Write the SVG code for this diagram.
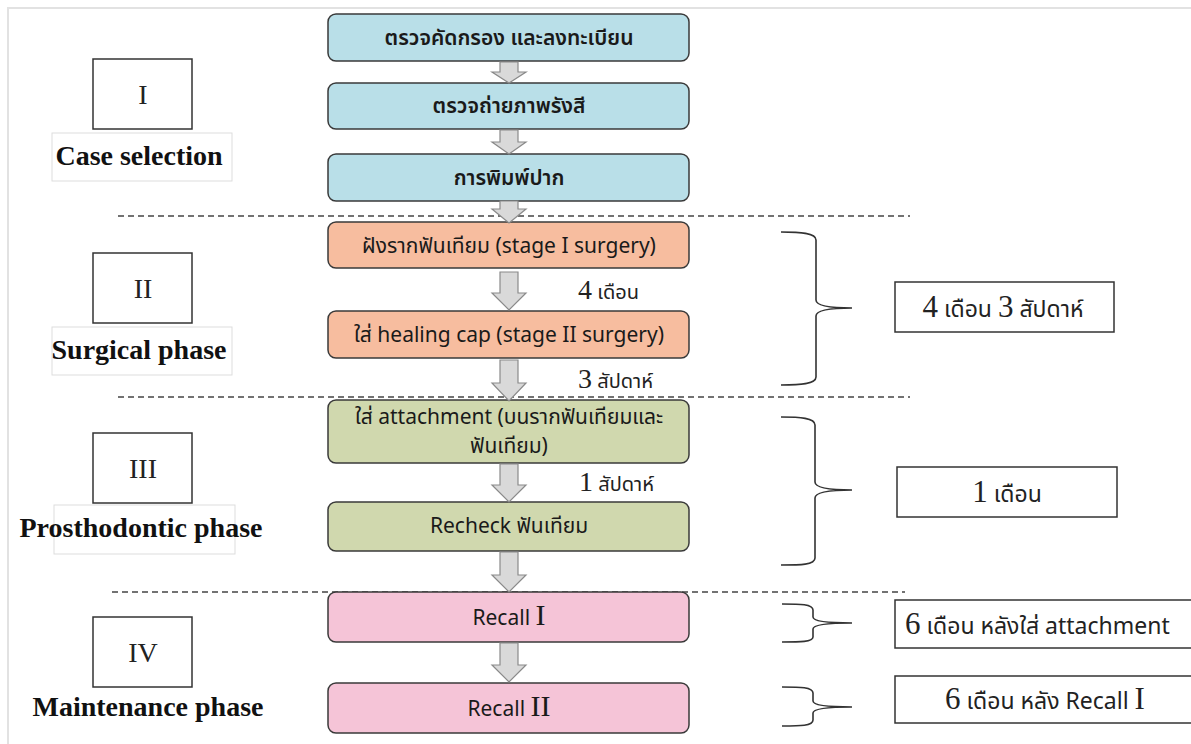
<svg xmlns="http://www.w3.org/2000/svg" width="1191" height="744" viewBox="0 0 1191 744">
<style>
.node{stroke:#3a3a3a;stroke-width:1.5}
.blue{fill:#b9dfe8}
.orange{fill:#f7bd9f}
.green{fill:#d0d8ae}
.pink{fill:#f5c4d7}
.nt{font-family:"Noto Sans Thai","Noto Sans",sans-serif;font-size:21px;fill:#1a1a1a;text-anchor:middle}
.bt{font-weight:600}
.rom{font-family:"Liberation Serif",serif}
.arr{fill:#d9d9d9;stroke:#8a8a8a;stroke-width:1.2}
.dash{stroke:#444;stroke-width:1.3;stroke-dasharray:6 4;fill:none}
.pbox{fill:#fff;stroke:#333;stroke-width:1.5}
.lbox{fill:#fff;stroke:#ddd;stroke-width:1}
.lt{font-family:"Liberation Serif",serif;font-weight:bold;font-size:28px;fill:#111;text-anchor:middle}
.brace{fill:none;stroke:#333;stroke-width:1.6}
.dur{font-family:"Noto Sans Thai","Noto Sans",sans-serif;font-size:20px;fill:#222}
.num{font-family:"Liberation Serif",serif;font-size:28px}
.rd{font-family:"Noto Sans Thai","Noto Sans",sans-serif;font-size:23px;fill:#222}
.rn{font-family:"Liberation Serif",serif;font-size:31px}
</style>
<rect width="1191" height="744" fill="#fff"/>
<path d="M8 744 V8 H1191" fill="none" stroke="#e2e2e2" stroke-width="2"/>

<g id="dividers">
<line class="dash" x1="118" y1="216" x2="910" y2="216"/>
<line class="dash" x1="118" y1="397" x2="910" y2="397"/>
<line class="dash" x1="112" y1="592" x2="905" y2="592"/>
</g>

<g id="phase1">
<rect class="pbox" x="93" y="59" width="99" height="70"/>
<text class="rom" x="143" y="104" font-size="28" text-anchor="middle" fill="#222">I</text>
<rect class="lbox" x="52" y="133" width="180" height="48"/>
<text class="lt" x="139" y="165">Case selection</text>
</g>
<g id="phase2">
<rect class="pbox" x="93" y="253" width="99" height="70"/>
<text class="rom" x="143" y="298" font-size="28" text-anchor="middle" fill="#222">II</text>
<rect class="lbox" x="52" y="327" width="180" height="48"/>
<text class="lt" x="139" y="359">Surgical phase</text>
</g>
<g id="phase3">
<rect class="pbox" x="93" y="433" width="99" height="70"/>
<text class="rom" x="143" y="478" font-size="28" text-anchor="middle" fill="#222">III</text>
<rect class="lbox" x="54" y="505" width="181" height="49" stroke="#eee"/>
<text class="lt" x="141" y="537">Prosthodontic phase</text>
</g>
<g id="phase4">
<rect class="pbox" x="93" y="617" width="99" height="70"/>
<text class="rom" x="143" y="662" font-size="28" text-anchor="middle" fill="#222">IV</text>
<text class="lt" x="148" y="716">Maintenance phase</text>
</g>

<g id="n1"><rect class="node blue" x="328" y="14" width="361" height="47" rx="8"/><text class="nt bt" x="509" y="45">ตรวจคัดกรอง และลงทะเบียน</text></g>
<g id="n2"><rect class="node blue" x="328" y="83" width="361" height="46" rx="8"/><text class="nt bt" x="509" y="113">ตรวจถ่ายภาพรังสี</text></g>
<g id="n3"><rect class="node blue" x="328" y="154" width="361" height="47" rx="8"/><text class="nt bt" x="509" y="185">การพิมพ์ปาก</text></g>
<g id="n4"><rect class="node orange" x="328" y="222" width="361" height="46" rx="8"/><text class="nt" x="509" y="253">ฝังรากฟันเทียม (stage I surgery)</text></g>
<g id="n5"><rect class="node orange" x="328" y="311" width="361" height="47" rx="8"/><text class="nt" x="509" y="342">ใส่ healing cap (stage II surgery)</text></g>
<g id="n6"><rect class="node green" x="328" y="400" width="361" height="63" rx="8"/><text class="nt" x="509" y="424">ใส่ attachment (บนรากฟันเทียมและ</text><text class="nt" x="509" y="453">ฟันเทียม)</text></g>
<g id="n7"><rect class="node green" x="328" y="502" width="361" height="49" rx="8"/><text class="nt" x="509" y="533">Recheck ฟันเทียม</text></g>
<g id="n8"><rect class="node pink" x="328" y="592" width="361" height="50" rx="8"/><text class="nt" x="509" y="625">Recall <tspan class="rom" font-size="30">I</tspan></text></g>
<g id="n9"><rect class="node pink" x="328" y="683" width="361" height="50" rx="8"/><text class="nt" x="509" y="716">Recall <tspan class="rom" font-size="30">II</tspan></text></g>

<g id="connectors">
<polygon class="arr" points="500,62 518,62 518,72 526,72 509,83 492,72 500,72"/>
<polygon class="arr" points="500,130 518,130 518,142 526,142 509,154 492,142 500,142"/>
<polygon class="arr" points="500,201 518,201 518,209 526,209 509,223 492,209 500,209"/>
<polygon class="arr" points="500,272 518,272 518,293 526,293 509,310 492,293 500,293"/>
<polygon class="arr" points="500,360 518,360 518,383 526,383 509,401 492,383 500,383"/>
<polygon class="arr" points="500,464 518,464 518,485 526,485 509,502 492,485 500,485"/>
<polygon class="arr" points="500,552 518,552 518,575 526,575 509,592 492,575 500,575"/>
<polygon class="arr" points="500,643 518,643 518,665 526,665 509,682 492,665 500,665"/>
</g>

<g id="gaps">
<text class="dur" x="578" y="299"><tspan class="num">4</tspan> เดือน</text>
<text class="dur" x="578" y="388"><tspan class="num">3</tspan> สัปดาห์</text>
<text class="dur" x="579" y="491"><tspan class="num">1</tspan> สัปดาห์</text>
</g>

<g id="braces">
<path class="brace" d="M781 232 C800 232 816 233 816 240 V300 C816 306 830 308 852 308 C830 308 816 310 816 316 V377 C816 384 800 385 781 385"/>
<path class="brace" d="M781 417 C800 417 815 418 815 425 V482 C815 488 830 490 852 490 C830 490 815 492 815 498 V558 C815 565 800 565 781 565"/>
<path class="brace" d="M782 604 C800 604 813 604 813 610 V617 C813 621 826 623 852 623 C826 623 813 625 813 629 V637 C813 642 800 642 782 642"/>
<path class="brace" d="M782 687 C800 687 813 687 813 693 V701 C813 705 826 707 852 707 C826 707 813 709 813 713 V720 C813 726 800 726 782 726"/>
</g>

<g id="d1"><rect class="pbox" x="895" y="282" width="219" height="50"/><text class="rd" x="1003" y="317" text-anchor="middle"><tspan class="rn">4</tspan> เดือน <tspan class="rn">3</tspan> สัปดาห์</text></g>
<g id="d2"><rect class="pbox" x="897" y="467" width="220" height="50"/><text class="rd" x="1007" y="502" text-anchor="middle"><tspan class="rn">1</tspan> เดือน</text></g>
<g id="d3"><rect class="pbox" x="895" y="600" width="310" height="48"/><text class="rd" x="905" y="634"><tspan class="rn">6</tspan> เดือน หลังใส่ attachment</text></g>
<g id="d4"><rect class="pbox" x="895" y="676" width="310" height="47"/><text class="rd" x="1045" y="709" text-anchor="middle"><tspan class="rn">6</tspan> เดือน หลัง Recall <tspan class="rn">I</tspan></text></g>
</svg>
